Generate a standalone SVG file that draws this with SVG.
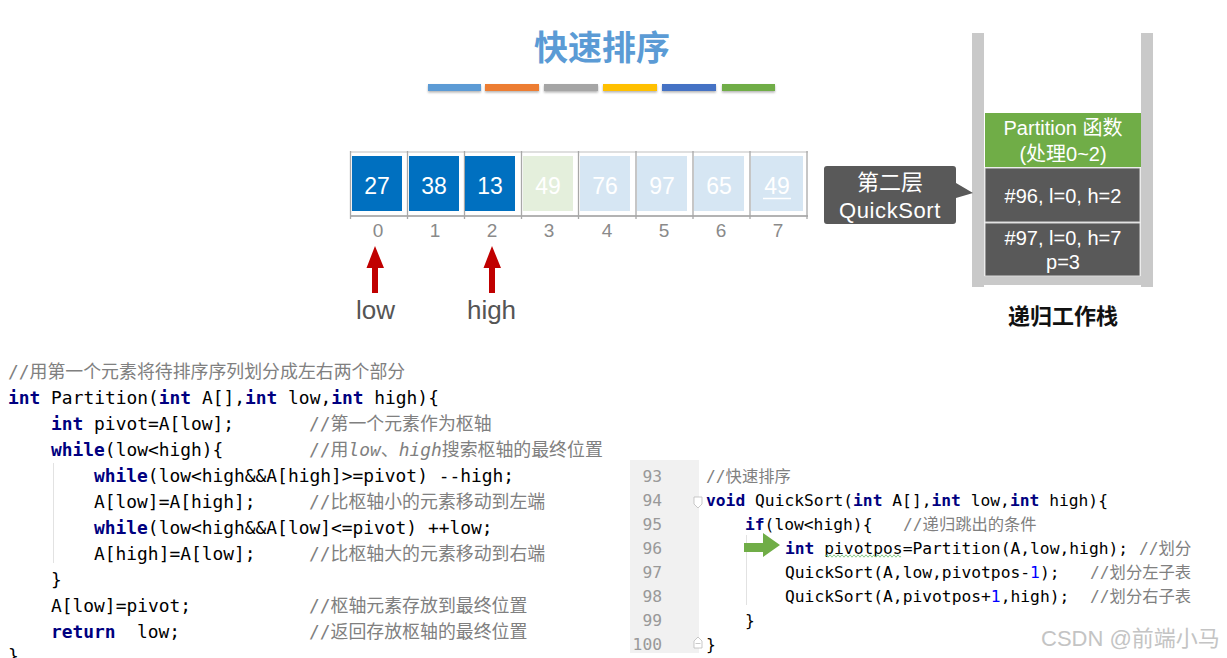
<svg xmlns="http://www.w3.org/2000/svg" width="1227" height="658" viewBox="0 0 1227 658">
<style>
text{white-space:pre}
.sans{font-family:"Liberation Sans","Noto Sans CJK SC",sans-serif}
.cjk{font-family:"Noto Sans CJK SC","Liberation Sans",sans-serif}
.num{font-family:"Liberation Sans",sans-serif;font-size:23px;fill:#fff;text-anchor:middle}
.idx{font-family:"Liberation Sans",sans-serif;font-size:19px;fill:#8a8a8a;text-anchor:middle}
.dark{fill:#0070c0}
.lgreen{fill:#e4efdc}
.lblue{fill:#d6e6f3}
.sep{stroke:#a8a8a8;stroke-width:1.3}
.wall{fill:#c9c9c9}
.frame{fill:#595959;stroke:#d9d9d9;stroke-width:1}
.st{font-family:"Liberation Sans","Noto Sans CJK SC",sans-serif;font-size:20px;fill:#fff;text-anchor:middle}
.code1{font-family:"DejaVu Sans Mono","Noto Sans CJK SC",monospace;font-size:17.9px;fill:#000}
.code2{font-family:"DejaVu Sans Mono","Noto Sans CJK SC",monospace;font-size:16.3px;fill:#000}
.kw{fill:#000080;font-weight:bold}
.cm{fill:#808080}
.it{font-style:italic}
.n1{fill:#0000ff}
.ln{font-family:"DejaVu Sans Mono",monospace;font-size:16.3px;fill:#999;text-anchor:end}
.guide{stroke:#e2e2e2;stroke-width:1}
.redarrow{fill:#c00000}
</style>
<defs>
<filter id="sh" x="-10%" y="-50%" width="120%" height="250%">
<feDropShadow dx="0" dy="1.5" stdDeviation="1" flood-color="#000" flood-opacity="0.3"/>
</filter>
</defs>
<rect width="1227" height="658" fill="#fff"/>

<g id="title">
<text x="602" y="60" class="cjk" font-size="34" font-weight="bold" fill="#5b9bd5" text-anchor="middle">快速排序</text>
</g>

<g id="color-bars" filter="url(#sh)">
<rect x="428" y="84" width="53" height="7" fill="#5b9bd5"/>
<rect x="485" y="84" width="54" height="7" fill="#ed7d31"/>
<rect x="544" y="84" width="54" height="7" fill="#a5a5a5"/>
<rect x="603" y="84" width="54" height="7" fill="#ffc000"/>
<rect x="662" y="84" width="54" height="7" fill="#4472c4"/>
<rect x="722" y="84" width="53" height="7" fill="#70ad47"/>
</g>

<g id="array">
<line x1="350" y1="152" x2="808" y2="152" stroke="#d4d4d4" stroke-width="1.5"/>
<line x1="350" y1="216" x2="808" y2="216" stroke="#9a9a9a" stroke-width="1.5"/>
<line class="sep" x1="350.5" y1="151" x2="350.5" y2="219"/>
<line class="sep" x1="407.5" y1="151" x2="407.5" y2="219"/>
<line class="sep" x1="464.5" y1="151" x2="464.5" y2="219"/>
<line class="sep" x1="521.5" y1="151" x2="521.5" y2="219"/>
<line class="sep" x1="578.5" y1="151" x2="578.5" y2="219"/>
<line class="sep" x1="636" y1="151" x2="636" y2="219"/>
<line class="sep" x1="693" y1="151" x2="693" y2="219"/>
<line class="sep" x1="750" y1="151" x2="750" y2="219"/>
<line class="sep" x1="807" y1="151" x2="807" y2="219"/>
<g id="cell0"><rect class="dark" x="352" y="156" width="50" height="55"/><text class="num" x="377" y="194">27</text><text class="idx" x="378" y="237">0</text></g>
<g id="cell1"><rect class="dark" x="409" y="156" width="50" height="55"/><text class="num" x="434" y="194">38</text><text class="idx" x="435" y="237">1</text></g>
<g id="cell2"><rect class="dark" x="465" y="156" width="50" height="55"/><text class="num" x="490" y="194">13</text><text class="idx" x="492" y="237">2</text></g>
<g id="cell3"><rect class="lgreen" x="523" y="156" width="50" height="55"/><text class="num" x="548" y="194">49</text><text class="idx" x="549" y="237">3</text></g>
<g id="cell4"><rect class="lblue" x="580" y="156" width="50" height="55"/><text class="num" x="605" y="194">76</text><text class="idx" x="607" y="237">4</text></g>
<g id="cell5"><rect class="lblue" x="637" y="156" width="50" height="55"/><text class="num" x="662" y="194">97</text><text class="idx" x="664" y="237">5</text></g>
<g id="cell6"><rect class="lblue" x="694" y="156" width="50" height="55"/><text class="num" x="719" y="194">65</text><text class="idx" x="721" y="237">6</text></g>
<g id="cell7"><rect class="lblue" x="751" y="156" width="52" height="55"/><text class="num" x="777" y="194">49</text><line x1="763" y1="198.5" x2="791" y2="198.5" stroke="#fff" stroke-width="1.5"/><text class="idx" x="778" y="237">7</text></g>
</g>

<g id="connectors">
<path class="redarrow" d="M375,246 L384,268 L378,268 L378,293 L372,293 L372,268 L366.5,268 Z"/>
<path class="redarrow" d="M492,246 L501,268 L495,268 L495,293 L489,293 L489,268 L483.5,268 Z"/>
</g>

<g id="low-label"><text x="375.5" y="319" class="sans" font-size="26" fill="#555" text-anchor="middle">low</text></g>
<g id="high-label"><text x="491.5" y="319" class="sans" font-size="26" fill="#555" text-anchor="middle">high</text></g>

<g id="stack">
<rect class="wall" x="972" y="33" width="12" height="254"/>
<rect class="wall" x="1141" y="33" width="12" height="254"/>
<rect class="wall" x="984" y="276" width="157" height="9"/>
<g id="frame-partition">
<rect x="985" y="113" width="156" height="54" fill="#70ad47"/>
<text class="st" x="1063" y="135">Partition 函数</text>
<text class="st" x="1063" y="161">(处理0~2)</text>
</g>
<g id="frame-96">
<rect class="frame" x="985" y="168" width="155" height="54"/>
<text class="st" x="1063" y="203">#96, l=0, h=2</text>
</g>
<g id="frame-97">
<rect class="frame" x="985" y="223" width="155" height="53"/>
<text class="st" x="1063" y="245">#97, l=0, h=7</text>
<text class="st" x="1063" y="269">p=3</text>
</g>
</g>

<g id="callout">
<path d="M827,166 H953 Q956,166 956,169 V183 L973,193 L956,198 V221 Q956,224 953,224 H827 Q824,224 824,221 V169 Q824,166 827,166 Z" fill="#595959"/>
<text x="890" y="190" class="cjk" font-size="22" fill="#fff" text-anchor="middle">第二层</text>
<text x="890" y="218" class="sans" font-size="22" fill="#fff" text-anchor="middle" letter-spacing="0.6">QuickSort</text>
</g>

<g id="stack-label">
<text x="1063" y="324" class="cjk" font-size="22" font-weight="bold" fill="#111" text-anchor="middle">递归工作栈</text>
</g>

<g id="code-partition" class="code1">
<line class="guide" x1="53.5" y1="463" x2="53.5" y2="563"/>
<text x="8" y="378" class="cm">//用第一个元素将待排序序列划分成左右两个部分</text>
<text x="8" y="404"><tspan class="kw">int</tspan> Partition(<tspan class="kw">int</tspan> A[],<tspan class="kw">int</tspan> low,<tspan class="kw">int</tspan> high){</text>
<text x="51" y="430"><tspan class="kw">int</tspan> pivot=A[low];</text>
<text x="309" y="430" class="cm">//第一个元素作为枢轴</text>
<text x="51" y="456"><tspan class="kw">while</tspan>(low&lt;high){</text>
<text x="309" y="456" class="cm">//用<tspan class="it">low</tspan>、<tspan class="it">high</tspan>搜索枢轴的最终位置</text>
<text x="94" y="482"><tspan class="kw">while</tspan>(low&lt;high&amp;&amp;A[high]&gt;=pivot) --high;</text>
<text x="94" y="508">A[low]=A[high];</text>
<text x="309" y="508" class="cm">//比枢轴小的元素移动到左端</text>
<text x="94" y="534"><tspan class="kw">while</tspan>(low&lt;high&amp;&amp;A[low]&lt;=pivot) ++low;</text>
<text x="94" y="560">A[high]=A[low];</text>
<text x="309" y="560" class="cm">//比枢轴大的元素移动到右端</text>
<text x="51" y="586">}</text>
<text x="51" y="612">A[low]=pivot;</text>
<text x="309" y="612" class="cm">//枢轴元素存放到最终位置</text>
<text x="51" y="638"><tspan class="kw">return</tspan></text>
<text x="137" y="638">low;</text>
<text x="309" y="638" class="cm">//返回存放枢轴的最终位置</text>
<text x="8" y="662">}</text>
</g>

<g id="code-quicksort">
<rect x="630" y="460" width="69" height="193" fill="#f1f1f1"/>
<text class="ln" x="662" y="482">93</text>
<text class="ln" x="662" y="506">94</text>
<text class="ln" x="662" y="530">95</text>
<text class="ln" x="662" y="554">96</text>
<text class="ln" x="662" y="578">97</text>
<text class="ln" x="662" y="602">98</text>
<text class="ln" x="662" y="626">99</text>
<text class="ln" x="662" y="650">100</text>
<path d="M694,497 H702 V504 L698,508 L694,504 Z" fill="#fff" stroke="#bbb" stroke-width="0.8"/>
<path d="M694,648 H702 V641 L698,637 L694,641 Z" fill="#fff" stroke="#bbb" stroke-width="0.8"/>
<line x1="695.5" y1="643.5" x2="700.5" y2="643.5" stroke="#bbb" stroke-width="0.8"/>
<line class="guide" x1="746.5" y1="535" x2="746.5" y2="605"/>
<g class="code2">
<text x="706" y="482" class="cm">//快速排序</text>
<text x="706" y="506"><tspan class="kw">void</tspan> QuickSort(<tspan class="kw">int</tspan> A[],<tspan class="kw">int</tspan> low,<tspan class="kw">int</tspan> high){</text>
<text x="745" y="530"><tspan class="kw">if</tspan>(low&lt;high){</text>
<text x="903" y="530" class="cm">//递归跳出的条件</text>
<text x="785" y="554"><tspan class="kw">int</tspan> pivotpos=Partition(A,low,high);</text>
<text x="1139" y="554" class="cm">//划分</text>
<text x="785" y="578">QuickSort(A,low,pivotpos-<tspan class="n1">1</tspan>);</text>
<text x="1090" y="578" class="cm">//划分左子表</text>
<text x="785" y="602">QuickSort(A,pivotpos+<tspan class="n1">1</tspan>,high);</text>
<text x="1090" y="602" class="cm">//划分右子表</text>
<text x="745" y="626">}</text>
<text x="706" y="650">}</text>
</g>
<path d="M825,556 q1,-2.4 2,0 t2,0 t2,0 t2,0 t2,0 t2,0 t2,0 t2,0 t2,0 t2,0 t2,0 t2,0 t2,0 t2,0 t2,0 t2,0 t2,0 t2,0 t2,0 t2,0 t2,0 t2,0 t2,0 t2,0 t2,0 t2,0 t2,0 t2,0 t2,0 t2,0 t2,0 t2,0 t2,0 t2,0 t2,0 t2,0 t2,0 t2,0" fill="none" stroke="#7dc47d" stroke-width="0.9"/>
<path d="M744,543 H763 V533 L780,545 L763,557 V552 H744 Z" fill="#70ad47"/>
</g>

<g id="watermark">
<text x="1041" y="646" class="sans" font-size="22" fill="#c4c4c4">CSDN @前端小马</text>
</g>
</svg>
